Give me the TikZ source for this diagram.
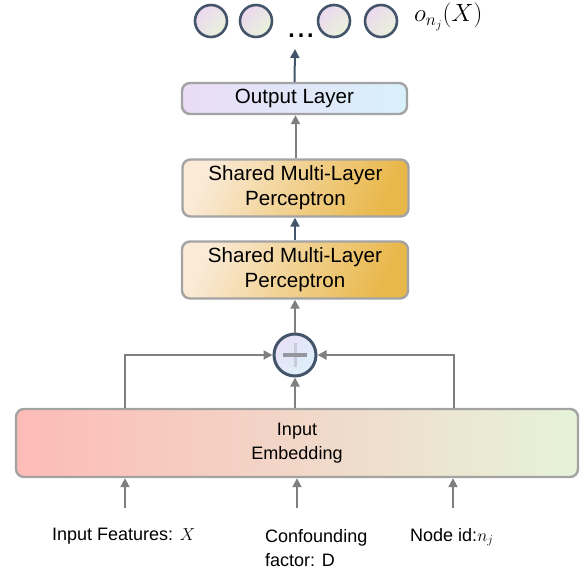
\documentclass[tikz,border=0pt]{standalone}
\usepackage{fontspec}
\setmainfont{Liberation Sans}
\usetikzlibrary{arrows.meta,calc}
\definecolor{slate}{HTML}{44546A}
\definecolor{conn}{HTML}{7F7F7F}
\definecolor{bord}{HTML}{A3A3A3}
\tikzset{
  boxbase/.style={draw=bord, line width=2.4pt, rounded corners=8pt, inner sep=0pt, align=center},
  outbox/.style={boxbase, left color={rgb,255:red,234;green,220;blue,245}, right color={rgb,255:red,216;green,241;blue,251}, minimum width=225pt, minimum height=31pt, font=\fontsize{20.6}{25}\selectfont},
  mlpbox/.style={boxbase, left color={rgb,255:red,250;green,234;blue,214}, right color={rgb,255:red,233;green,184;blue,75}, shading angle=65, minimum width=226pt, minimum height=57pt, font=\fontsize{20.6}{25}\selectfont},
  embbox/.style={boxbase, left color={rgb,255:red,253;green,187;blue,183}, middle color={rgb,255:red,245;green,228;blue,204}, right color={rgb,255:red,230;green,243;blue,216}, minimum width=562pt, minimum height=68pt, font=\fontsize{18}{23.5}\selectfont},
  outcirc/.style={circle, draw=slate, line width=2.6pt, minimum size=32pt, inner sep=0pt, left color={rgb,255:red,236;green,216;blue,240}, right color={rgb,255:red,232;green,242;blue,218}, shading angle=45},
  sumcirc/.style={circle, draw=slate, line width=3pt, minimum size=42pt, inner sep=0pt, left color={rgb,255:red,232;green,224;blue,246}, right color={rgb,255:red,220;green,240;blue,250}, shading angle=45},
  garr/.style={draw=conn, line width=2pt, -{Triangle[length=9pt,width=9pt]}},
  sarr/.style={draw=slate, line width=2pt, -{Triangle[length=9pt,width=9pt]}},
  lbl/.style={font=\fontsize{18}{24}\selectfont, inner sep=0pt, anchor=west, align=left},
}
\begin{document}
\begin{tikzpicture}[x=1pt,y=-1pt]
\useasboundingbox (0,0) rectangle (585,577);
% top output circles
\node[outcirc] (c1) at (211,21) {};
\node[outcirc] (c2) at (256,21) {};
\node[outcirc] (c3) at (334,21) {};
\node[outcirc] (c4) at (381,21) {};
\node[font=\fontsize{34}{34}\selectfont, inner sep=0pt, anchor=base] (dots) at (301,38) {...};
\node[font=\fontsize{25}{25}\selectfont, inner sep=0pt, anchor=west] (olab) at (414,17) {$o_{n_j}(X)$};
\coordinate (topend) at (295,49);
% boxes
\node[outbox] (out) at (294.5,98.5) {Output Layer};
\node[mlpbox] (mlp2) at (295.5,188) {Shared Multi-Layer\\Perceptron};
\node[mlpbox] (mlp1) at (295,270) {Shared Multi-Layer\\Perceptron};
\node[sumcirc] (sum) at (295,355) {};
\draw[line width=3pt, draw={rgb,255:red,200;green,203;blue,218}] ($(sum.center)+(0,-12)$) -- ($(sum.center)+(0,12)$);
\draw[line width=3.5pt, draw={rgb,255:red,150;green,150;blue,160}] ($(sum.center)+(-12,0)$) -- ($(sum.center)+(12,0)$);
\node[embbox] (emb) at (297,443) {Input\\Embedding};
% labels
\node[lbl] (lx) at (52,536) {Input Features: $X$};
\node[lbl] (ld) at (265,548) {Confounding\\factor: D};
\node[lbl] (ln) at (410,537) {Node id:$n_j$};
\coordinate (ax) at (125,508);
\coordinate (ad) at (297,508);
\coordinate (an) at (453,508);
\coordinate (lx0) at (125,409);
\coordinate (rx0) at (454,409);
% connectors
\draw[garr] (ax) -- (ax |- emb.south);
\draw[garr] (ad) -- (ad |- emb.south);
\draw[garr] (an) -- (an |- emb.south);
\draw[garr] (lx0 |- emb.north) |- (sum.west);
\draw[garr] (rx0 |- emb.north) |- (sum.east);
\draw[garr] (sum.south |- emb.north) -- (sum.south);
\draw[garr] (sum.north) -- (mlp1.south);
\draw[sarr] (mlp1.north) -- (mlp1.north |- mlp2.south);
\draw[garr] (mlp2.north) -- (mlp2.north |- out.south);
\draw[sarr] (out.north) -- (topend);
\end{tikzpicture}
\end{document}
